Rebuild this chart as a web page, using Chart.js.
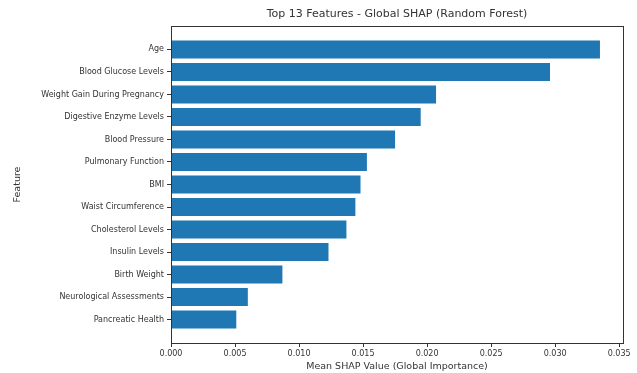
<!DOCTYPE html>
<html>
<head>
<meta charset="utf-8">
<script src="https://cdn.jsdelivr.net/npm/chart.js@4/dist/chart.umd.min.js"></script>
<style>
  html, body { margin: 0; padding: 0; background: #fff; }
  #wrap { width: 637px; height: 373px; }
</style>
</head>
<body>
<div id="wrap"><canvas id="shapChart"></canvas></div>
<script>
// Feature importances, top to bottom
const features = ['Age', 'Blood Glucose Levels', 'Weight Gain During Pregnancy', 'Digestive Enzyme Levels',
    'Blood Pressure', 'Pulmonary Function', 'BMI', 'Waist Circumference', 'Cholesterol Levels',
    'Insulin Levels', 'Birth Weight', 'Neurological Assessments', 'Pancreatic Health'];
const shapValues = [0.0335, 0.0296, 0.0207, 0.0195, 0.0175, 0.0153, 0.0148, 0.0144, 0.0137,
    0.0123, 0.0087, 0.0060, 0.0051];
const xTicks = [0.000, 0.005, 0.010, 0.015, 0.020, 0.025, 0.030, 0.035];

const textColor = '#333';
const fontFamily = '"DejaVu Sans", sans-serif';

// matplotlib-style frame around the plot area plus a title centred over it
const framePlugin = {
    id: 'frame',
    afterDraw(chart) {
        const { ctx, chartArea: a } = chart;
        ctx.save();
        ctx.strokeStyle = textColor;
        ctx.lineWidth = 1;
        ctx.strokeRect(Math.round(a.left) + 0.5, Math.round(a.top) + 0.5,
            Math.round(a.right - a.left), Math.round(a.bottom - a.top));
        ctx.fillStyle = textColor;
        ctx.font = '11px ' + fontFamily;
        ctx.textAlign = 'center';
        ctx.textBaseline = 'middle';
        ctx.fillText('Top 13 Features - Global SHAP (Random Forest)', (a.left + a.right) / 2, 14);
        ctx.restore();
    }
};

const shapData = {
    datasets: [{
        label: 'Mean SHAP',
        data: features.map((f, i) => ({ x: shapValues[i], y: i })),
        backgroundColor: '#1f77b4',
        borderWidth: 0,
        barPercentage: 0.8,
        categoryPercentage: 1.0
    }]
};

const shapConfig = {
    type: 'bar',
    data: shapData,
    options: {
        indexAxis: 'y',
        responsive: true,
        maintainAspectRatio: false,
        animation: false,
        layout: { padding: { top: 26, right: 14, left: 0, bottom: 0 } },
        plugins: {
            legend: { display: false },
            tooltip: { enabled: false }
        },
        scales: {
            x: {
                type: 'linear',
                min: 0,
                max: 0.0353,
                afterBuildTicks: (scale) => { scale.ticks = xTicks.map(v => ({ value: v })); },
                afterFit: (scale) => { scale.height = 30; },
                grid: { drawOnChartArea: false, tickLength: 4, color: textColor },
                border: { display: false },
                ticks: {
                    padding: 2,
                    color: textColor,
                    font: { family: fontFamily, size: 8 },
                    maxRotation: 0,
                    callback: (v) => Number(v).toFixed(3)
                },
                title: {
                    display: true,
                    text: 'Mean SHAP Value (Global Importance)',
                    color: textColor,
                    font: { family: fontFamily, size: 9.5 },
                    padding: { top: 0, bottom: 1 }
                }
            },
            y: {
                type: 'linear',
                reverse: true,
                offset: false,
                min: -1.04,
                max: 13.04,
                afterBuildTicks: (scale) => { scale.ticks = features.map((f, i) => ({ value: i })); },
                afterFit: (scale) => { scale.width = 171; },
                grid: { offset: false, drawOnChartArea: false, tickLength: 4, color: textColor },
                border: { display: false },
                ticks: {
                    autoSkip: false,
                    padding: 3,
                    color: textColor,
                    font: { family: fontFamily, size: 8 },
                    callback: (v) => features[v]
                },
                title: {
                    display: true,
                    text: 'Feature',
                    color: textColor,
                    font: { family: fontFamily, size: 9.5 },
                    padding: { top: 12, bottom: 0 }
                }
            }
        }
    },
    plugins: [framePlugin]
};

new Chart(document.getElementById('shapChart').getContext('2d'), shapConfig);
</script>
</body>
</html>
